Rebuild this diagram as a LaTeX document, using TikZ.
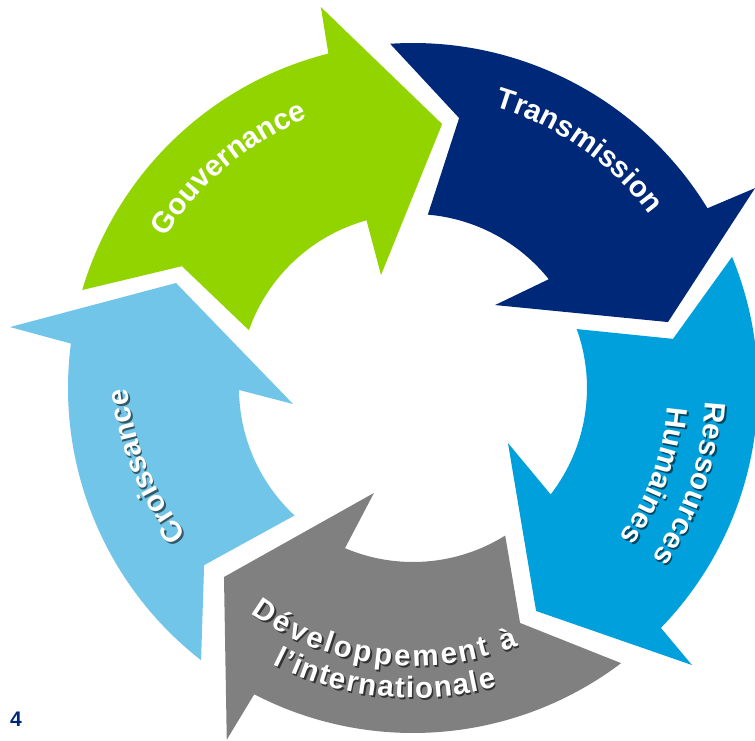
\documentclass[tikz,border=0pt]{standalone}
\usepackage{fontspec}
\setmainfont{Liberation Sans}
\newfontfamily\labfam{Liberation Sans}
\usetikzlibrary{decorations.text}
\definecolor{cgreen}{RGB}{146,212,0}
\definecolor{cnavy}{RGB}{0,40,120}
\definecolor{cblue}{RGB}{0,160,220}
\definecolor{cgrey}{RGB}{128,128,128}
\definecolor{clight}{RGB}{113,197,232}
\colorlet{shgrey}{cgrey!40!black}
\colorlet{shblue}{cblue!45!black}
\colorlet{shlight}{clight!45!black}
\newcommand\labfont{\labfam\bfseries\fontsize{16.8}{19}\selectfont}
\begin{document}
\begin{tikzpicture}[x=0.02cm,y=0.02cm,
  arrowpart/.style={fill=#1, draw=none}]
\useasboundingbox (-413,-353) rectangle (342,388);
\begin{scope}
\clip (-413,-353) rectangle (342,388);
% Gouvernance
\path[arrowpart=cgreen] (104.2:345) arc[start angle=104.2,end angle=163.5,radius=345]
  -- (152.2:261.2) -- (160.6:174) arc[start angle=160.6,end angle=105.5,radius=174]
  -- (105.8:117.4) -- (83.7:265.6) -- (103.6:392) -- cycle;
% Transmission
\path[arrowpart=cnavy] (31.4:345) arc[start angle=31.4,end angle=93.8,radius=345]
  -- (80.3:273.9) -- (85.1:174) arc[start angle=85.1,end angle=38.7,radius=174]
  -- (45.3:116.7) -- (14.5:263.4) -- (30.3:396.2) -- cycle;
% Ressources Humaines
\path[arrowpart=cblue] (-44.06:345) arc[start angle=-44.06,end angle=22.35,radius=345]
  -- (10.7:264.6) -- (19.8:174) arc[start angle=19.8,end angle=-37.7,radius=174]
  -- (-30.1:109.8) -- (-61.1:254.7) -- (-44.8:393.2) -- cycle;
% Developpement
\path[arrowpart=cgrey] (-117.4:345) arc[start angle=-117.4,end angle=-52.9,radius=345]
  -- (-65.5:258.2) -- (-58:174) arc[start angle=-58,end angle=-113,radius=174]
  -- (-110.4:112) -- (-135:267.3) -- (-117.9:398) -- cycle;
% Croissance
\path[arrowpart=clight] (172.6:345) arc[start angle=172.6,end angle=232.1,radius=345]
  -- (220.3:273.9) -- (227.1:174) arc[start angle=227.1,end angle=180.65,radius=174]
  -- (187.6:121) -- (156.1:259.2) -- (171.4:407.6) -- cycle;
\end{scope}

% texts
\path[decorate, decoration={text along path, text align=center,
  text={|\labfont\color{white}|Gouvernance}}]
  (160:289) arc[start angle=160,end angle=100,radius=289];
\path[decorate, decoration={text along path, text align=center,
  text={|\labfont\color{white}|Transmission}}]
  (85:293) arc[start angle=85,end angle=25,radius=293];

\begin{scope}[shift={(1.5,-2)}]
\path[decorate, decoration={text along path, text align=center,
  text={|\labfont\color{shblue}|Ressources}}]
  (10:293) arc[start angle=10,end angle=-48,radius=293];
\path[decorate, decoration={text along path, text align=center,
  text={|\labfont\color{shblue}|Humaines}}]
  (10:255) arc[start angle=10,end angle=-50,radius=255];
\path[decorate, decoration={text along path, text align=fit to path,
  text={|\labfont\color{shgrey}|Développement à}}]
  (234.3:278) arc[start angle=234.3,end angle=292.3,radius=278];
\path[decorate, decoration={text along path, text align=fit to path,
  text={|\labfont\color{shgrey}|l’internationale}}]
  (243.1:310) arc[start angle=243.1,end angle=285.7,radius=310];
\path[decorate, decoration={text along path, text align=center,
  text={|\labfont\color{shlight}|Croissance}}]
  plot[domain=0:75, samples=50]
  ({(270+(211.2-(235-\x))*0.496)*cos(235-\x)}, {(270+(211.2-(235-\x))*0.496)*sin(235-\x)});
\end{scope}

\path[decorate, decoration={text along path, text align=center,
  text={|\labfont\color{white}|Ressources}}]
  (10:293) arc[start angle=10,end angle=-48,radius=293];
\path[decorate, decoration={text along path, text align=center,
  text={|\labfont\color{white}|Humaines}}]
  (10:255) arc[start angle=10,end angle=-50,radius=255];
\path[decorate, decoration={text along path, text align=fit to path,
  text={|\labfont\color{white}|Développement à}}]
  (234.3:278) arc[start angle=234.3,end angle=292.3,radius=278];
\path[decorate, decoration={text along path, text align=fit to path,
  text={|\labfont\color{white}|l’internationale}}]
  (243.1:310) arc[start angle=243.1,end angle=285.7,radius=310];
\path[decorate, decoration={text along path, text align=center,
  text={|\labfont\color{white}|Croissance}}]
  plot[domain=0:75, samples=50]
  ({(270+(211.2-(235-\x))*0.496)*cos(235-\x)}, {(270+(211.2-(235-\x))*0.496)*sin(235-\x)});

\node[font=\labfam\bfseries\fontsize{12}{14}\selectfont, text=cnavy] (num) at (-397,-331) {4};
\end{tikzpicture}
\end{document}
